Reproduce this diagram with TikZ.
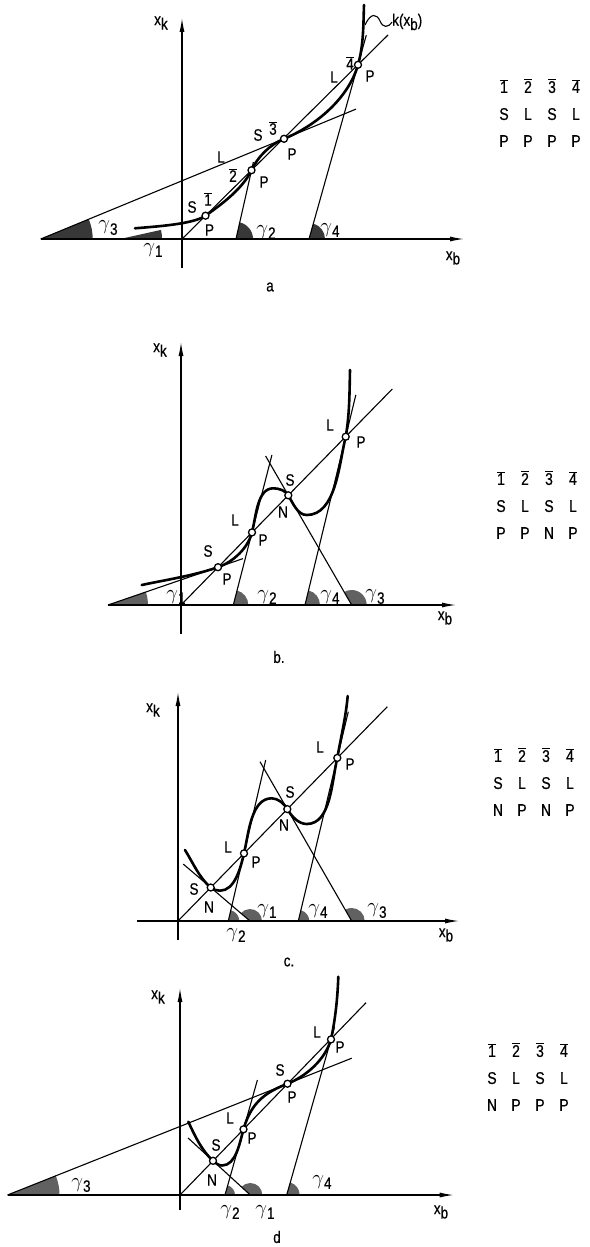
\documentclass[tikz,border=0pt]{standalone}
\usepackage{fontspec}
\setmainfont{Liberation Sans}[FakeStretch=0.82,FakeBold=0.5]
\usetikzlibrary{arrows.meta}
\newcommand\ovl[1]{\ensuremath{\overline{\mbox{#1}}}}
\newcommand\xsub[1]{x\raisebox{-0.5ex}{#1}}
\newcommand\gam[1]{{\fontsize{21}{21}\selectfont$\gamma$}\raisebox{-0.55ex}{#1}}
\newcommand\tabrow[4]{\makebox[24pt]{#1}\makebox[24pt]{#2}\makebox[24pt]{#3}\makebox[24pt]{#4}}

\begin{document}
\begin{tikzpicture}[x=1pt,y=1pt,font=\fontsize{16.5}{19}\selectfont]
    \tikzstyle{ln}=[line width=1.1pt]
    \tikzstyle{crv}=[line width=2.6pt,line cap=round]
    \tikzstyle{ax}=[line width=1.2pt,-{Latex[length=14pt,width=5pt]}]
    \tikzstyle{pt}=[circle,draw,fill=white,line width=1.3pt,inner sep=0pt,minimum size=7pt]
    \tikzstyle{wg}=[fill=black!78]
    \tikzstyle{wgb}=[fill=black!62]
    \tikzstyle{lab}=[inner sep=0pt]
    \tikzstyle{tbl}=[inner sep=0pt,align=center,font=\fontsize{17}{27}\selectfont]
    \useasboundingbox (0,0) rectangle (589,-1247);

    % a
    \coordinate (aO)  at (182,-239);
    \coordinate (aX)  at (464,-239);
    \coordinate (aYb) at (182,-268);
    \coordinate (aYt) at (182,-18);
    \coordinate (aE)  at (388,-35);
    \coordinate (aA1) at (120,-239);
    \coordinate (aA2) at (236,-239);
    \coordinate (aA3) at (40.7,-239);
    \coordinate (aA4) at (309,-239);
    \coordinate (aT2) at (253.4,-162);
    \coordinate (aT3) at (356,-109.1);
    \coordinate (aT4) at (366.3,-35.2);
    \coordinate (aP1) at (205.5,-215.7);
    \coordinate (aP2) at (251.5,-170.2);
    \coordinate (aP3) at (284,-138.8);
    \coordinate (aP4) at (358,-64.8);
    \coordinate (aK0) at (135,-228.3);
    \coordinate (aK5) at (364,-5);
    \coordinate (aK1) at (365,-25);
    \fill[wg] (aA3) -- +(0:52) arc[start angle=0,end angle=22.4,radius=52] -- cycle;
    \fill[wg] (aA1) -- +(0:42) arc[start angle=0,end angle=12.5,radius=42] -- cycle;
    \fill[wg] (aA2) -- +(0:17) arc[start angle=0,end angle=77.3,radius=17] -- cycle;
    \fill[wg] (aA4) -- +(0:16) arc[start angle=0,end angle=74.3,radius=16] -- cycle;
    \draw[ax] (aA3) -- (aX);
    \draw[ax] (aYb) -- (aYt);
    \draw[ln] (aO) -- (aE);
    \draw[ln] (aA3) -- (aT3);
    \draw[ln] (aA2) -- (aT2);
    \draw[ln] (aA4) -- (aT4);
    \draw[crv] (aK0) .. controls (154.9,-226.6) and (193.2,-224.3) .. (aP1)
        .. controls (221.9,-204.2) and (243,-188.3) .. (aP2)
        .. controls (257.8,-156.6) and (270.1,-144.5) .. (aP3)
        .. controls (316.1,-125.6) and (348.6,-98.2) .. (aP4)
        .. controls (363.6,-45.3) and (363.3,-25.3) .. (aK5);
    \node[pt] (aC1) at (aP1) {};
    \node[pt] (aC2) at (aP2) {};
    \node[pt] (aC3) at (aP3) {};
    \node[pt] (aC4) at (aP4) {};
    \node[lab,anchor=west] (akx) at (392,-22) {k(\xsub{b})};
    \draw[ln] (aK1) .. controls (371,-12) and (377,-14) .. (380,-21) .. controls (383,-28) and (388,-28) .. (akx.west);
    \node[lab] (axk)  at (161,-23)  {\xsub{k}};
    \node[lab] (axb)  at (453,-258) {\xsub{b}};
    \node[lab] (acap) at (270,-287) {a};
    \node[lab] (ag3)  at (108,-228) {\gam{3}};
    \node[lab] (ag1)  at (153,-250) {\gam{1}};
    \node[lab] (ag2)  at (266,-232) {\gam{2}};
    \node[lab] (ag4)  at (330,-230) {\gam{4}};
    \node[lab] (aS1)  at (192,-207) {S};
    \node[lab] (aB1)  at (208,-199) {\ovl{1}};
    \node[lab] (aQ1)  at (209.5,-230) {P};
    \node[lab] (aL2)  at (221,-157) {L};
    \node[lab] (aB2)  at (233,-175) {\ovl{2}};
    \node[lab] (aQ2)  at (264,-182) {P};
    \node[lab] (aS3)  at (258,-135) {S};
    \node[lab] (aB3)  at (273,-128) {\ovl{3}};
    \node[lab] (aQ3)  at (292,-154) {P};
    \node[lab] (aL4)  at (334,-77)  {L};
    \node[lab] (aB4)  at (350,-63)  {\ovl{4}};
    \node[lab] (aQ4)  at (370,-76)  {P};
    \node[tbl] (atab) at (540,-113) {\tabrow{\ovl{1}}{\ovl{2}}{\ovl{3}}{\ovl{4}}\\\tabrow{S}{L}{S}{L}\\\tabrow{P}{P}{P}{P}};

    % b
    \coordinate (bO)  at (181,-605);
    \coordinate (bX)  at (456,-605);
    \coordinate (bYb) at (181,-634);
    \coordinate (bYt) at (181,-342);
    \coordinate (bE)  at (392.3,-389);
    \coordinate (bA1) at (108,-605);
    \coordinate (bA2) at (233.3,-605);
    \coordinate (bA3) at (351.7,-605);
    \coordinate (bA4) at (305,-605);
    \coordinate (bT1) at (243,-558.6);
    \coordinate (bT2) at (271.9,-455);
    \coordinate (bT3) at (265.6,-456);
    \coordinate (bT4) at (355.8,-395);
    \coordinate (bP1) at (218,-567.2);
    \coordinate (bP2) at (252,-532.4);
    \coordinate (bP3) at (288.3,-495.3);
    \coordinate (bP4) at (345.7,-436.7);
    \coordinate (bK0) at (141.7,-585);
    \coordinate (bM1) at (273.3,-488.3);
    \coordinate (bM2) at (306.7,-515);
    \coordinate (bK5) at (350,-370);
    \fill[wgb] (bA1) -- +(0:40) arc[start angle=0,end angle=19,radius=40] -- cycle;
    \fill[wgb] (bA2) -- +(0:15) arc[start angle=0,end angle=75.6,radius=15] -- cycle;
    \fill[wgb] (bA4) -- +(0:15) arc[start angle=0,end angle=76.4,radius=15] -- cycle;
    \fill[wgb] (bA3) -- +(0:15) arc[start angle=0,end angle=120,radius=15] -- cycle;
    \draw[ax] (bA1) -- (bX);
    \draw[ax] (bYb) -- (bYt);
    \draw[ln] (bO) -- (bE);
    \draw[ln] (bA1) -- (bT1);
    \draw[ln] (bA2) -- (bT2);
    \draw[ln] (bA3) -- (bT3);
    \draw[ln] (bA4) -- (bT4);
    \draw[crv] (bK0) .. controls (167.2,-579.6) and (193.3,-575.7) .. (bP1)
        .. controls (233.3,-561.9) and (248,-548.1) .. (bP2)
        .. controls (256.1,-516.6) and (257,-488.3) .. (bM1)
        .. controls (278.8,-488.3) and (285.6,-490.5) .. (bP3)
        .. controls (292.8,-503.1) and (297.7,-515) .. (bM2)
        .. controls (335.9,-515) and (338.8,-465.1) .. (bP4)
        .. controls (349.6,-414.7) and (349.5,-392.3) .. (bK5);
    \node[pt] (bC1) at (bP1) {};
    \node[pt] (bC2) at (bP2) {};
    \node[pt] (bC3) at (bP3) {};
    \node[pt] (bC4) at (bP4) {};
    \node[lab] (bxk)  at (160,-350) {\xsub{k}};
    \node[lab] (bxb)  at (445,-618) {\xsub{b}};
    \node[lab] (bcap) at (279,-657) {b.};
    \node[lab] (bg1)  at (176,-597) {\gam{1}};
    \node[lab] (bg2)  at (267,-597) {\gam{2}};
    \node[lab] (bg4)  at (330,-597) {\gam{4}};
    \node[lab] (bg3)  at (375,-597) {\gam{3}};
    \node[lab] (bS1)  at (208,-551) {S};
    \node[lab] (bQ1)  at (227,-579) {P};
    \node[lab] (bL2)  at (235,-520) {L};
    \node[lab] (bQ2)  at (263,-540) {P};
    \node[lab] (bS3)  at (290,-480) {S};
    \node[lab] (bN3)  at (283,-512) {N};
    \node[lab] (bL4)  at (330,-425) {L};
    \node[lab] (bQ4)  at (361,-442) {P};
    \node[tbl] (btab) at (537,-505) {\tabrow{\ovl{1}}{\ovl{2}}{\ovl{3}}{\ovl{4}}\\\tabrow{S}{L}{S}{L}\\\tabrow{P}{P}{N}{P}};

    % c
    \coordinate (cO)  at (178,-921);
    \coordinate (cW)  at (137,-921);
    \coordinate (cX)  at (459,-921);
    \coordinate (cYb) at (178,-940);
    \coordinate (cYt) at (178,-692);
    \coordinate (cE)  at (387.3,-706.7);
    \coordinate (cA1) at (250,-921);
    \coordinate (cA2) at (228.3,-921);
    \coordinate (cA3) at (351.7,-921);
    \coordinate (cA4) at (298.3,-921);
    \coordinate (cT1) at (183.3,-864.1);
    \coordinate (cT2) at (265.7,-760);
    \coordinate (cT3) at (260,-761.7);
    \coordinate (cT4) at (348.3,-711.7);
    \coordinate (cP1) at (210.7,-887.5);
    \coordinate (cP2) at (244,-853.4);
    \coordinate (cP3) at (287.3,-809.1);
    \coordinate (cP4) at (337.3,-757.9);
    \coordinate (cK0) at (185,-850);
    \coordinate (cM0) at (220,-890.7);
    \coordinate (cM1) at (271.7,-798.3);
    \coordinate (cM2) at (306.7,-824);
    \coordinate (cK5) at (347.7,-696);
    \fill[wgb] (cA2) -- +(0:11) arc[start angle=0,end angle=76.9,radius=11] -- cycle;
    \fill[wgb] (cA1) -- +(0:12) arc[start angle=0,end angle=139.5,radius=12] -- cycle;
    \fill[wgb] (cA4) -- +(0:11) arc[start angle=0,end angle=76.6,radius=11] -- cycle;
    \fill[wgb] (cA3) -- +(0:13) arc[start angle=0,end angle=119.9,radius=13] -- cycle;
    \draw[ax] (cW) -- (cX);
    \draw[ax] (cYb) -- (cYt);
    \draw[ln] (cO) -- (cE);
    \draw[ln] (cT1) -- (cA1);
    \draw[ln] (cA2) -- (cT2);
    \draw[ln] (cA3) -- (cT3);
    \draw[ln] (cA4) -- (cT4);
    \draw[crv] (cK0) .. controls (193.1,-862.9) and (199.1,-877.6) .. (cP1)
        .. controls (213.2,-889.6) and (216.7,-890.7) .. (cM0)
        .. controls (234.8,-890.7) and (240.6,-867.8) .. (cP2)
        .. controls (248.7,-833.3) and (251.1,-798.3) .. (cM1)
        .. controls (278,-798.3) and (284.2,-803.6) .. (cP3)
        .. controls (291.4,-816.2) and (298.5,-824) .. (cM2)
        .. controls (331,-824) and (331.7,-781.5) .. (cP4)
        .. controls (340.9,-737.3) and (345.9,-716.8) .. (cK5);
    \node[pt] (cC1) at (cP1) {};
    \node[pt] (cC2) at (cP2) {};
    \node[pt] (cC3) at (cP3) {};
    \node[pt] (cC4) at (cP4) {};
    \node[lab] (cxk)  at (153,-710) {\xsub{k}};
    \node[lab] (cxb)  at (446,-935) {\xsub{b}};
    \node[lab] (ccap) at (289,-962) {c.};
    \node[lab] (cg1)  at (267,-911) {\gam{1}};
    \node[lab] (cg2)  at (236,-935) {\gam{2}};
    \node[lab] (cg4)  at (318,-911) {\gam{4}};
    \node[lab] (cg3)  at (377,-911) {\gam{3}};
    \node[lab] (cS1)  at (194,-889) {S};
    \node[lab] (cN1)  at (209,-907) {N};
    \node[lab] (cL2)  at (228,-847) {L};
    \node[lab] (cQ2)  at (256,-862) {P};
    \node[lab] (cS3)  at (290,-792) {S};
    \node[lab] (cN3)  at (284,-825) {N};
    \node[lab] (cL4)  at (320,-747) {L};
    \node[lab] (cQ4)  at (350,-764) {P};
    \node[tbl] (ctab) at (534,-782) {\tabrow{\ovl{1}}{\ovl{2}}{\ovl{3}}{\ovl{4}}\\\tabrow{S}{L}{S}{L}\\\tabrow{N}{P}{N}{P}};

    % d
    \coordinate (dO)  at (180,-1195);
    \coordinate (dX)  at (453.7,-1195);
    \coordinate (dYb) at (180,-1210);
    \coordinate (dYt) at (180,-988);
    \coordinate (dE)  at (366,-1002.7);
    \coordinate (dA1) at (250.3,-1195);
    \coordinate (dA2) at (225,-1195);
    \coordinate (dA3) at (7.5,-1195);
    \coordinate (dA4) at (286.7,-1195);
    \coordinate (dT1) at (188,-1137.9);
    \coordinate (dT2) at (257.4,-1080);
    \coordinate (dT3) at (351.7,-1058.2);
    \coordinate (dT4) at (334.5,-1027);
    \coordinate (dP1) at (213,-1160.8);
    \coordinate (dP2) at (243.5,-1129.3);
    \coordinate (dP3) at (287.5,-1083.7);
    \coordinate (dP4) at (331,-1039.4);
    \coordinate (dK0) at (188.3,-1121.7);
    \coordinate (dM0) at (222,-1165.5);
    \coordinate (dK5) at (338.3,-976.7);
    \fill[wgb] (dA3) -- +(0:52) arc[start angle=0,end angle=21.7,radius=52] -- cycle;
    \fill[wgb] (dA2) -- +(0:10) arc[start angle=0,end angle=74.3,radius=10] -- cycle;
    \fill[wgb] (dA1) -- +(0:12) arc[start angle=0,end angle=137.5,radius=12] -- cycle;
    \fill[wgb] (dA4) -- +(0:13) arc[start angle=0,end angle=74.1,radius=13] -- cycle;
    \draw[ax] (dA3) -- (dX);
    \draw[ax] (dYb) -- (dYt);
    \draw[ln] (dO) -- (dE);
    \draw[ln] (dA3) -- (dT3);
    \draw[ln] (dT1) -- (dA1);
    \draw[ln] (dA2) -- (dT2);
    \draw[ln] (dA4) -- (dT4);
    \draw[crv] (dK0) .. controls (194.8,-1135.7) and (201.6,-1150.4) .. (dP1)
        .. controls (215.5,-1163.1) and (218.6,-1165.5) .. (dM0)
        .. controls (236,-1165.5) and (239.7,-1142.8) .. (dP2)
        .. controls (251.6,-1100.4) and (267.9,-1091.5) .. (dP3)
        .. controls (306.7,-1076) and (325.3,-1059.3) .. (dP4)
        .. controls (335.4,-1018.9) and (337.6,-997.7) .. (dK5);
    \node[pt] (dC1) at (dP1) {};
    \node[pt] (dC2) at (dP2) {};
    \node[pt] (dC3) at (dP3) {};
    \node[pt] (dC4) at (dP4) {};
    \node[lab] (dxk)  at (158,-997)  {\xsub{k}};
    \node[lab] (dxb)  at (441,-1212) {\xsub{b}};
    \node[lab] (dcap) at (277,-1237) {d};
    \node[lab] (dg3)  at (81,-1185)  {\gam{3}};
    \node[lab] (dg2)  at (230,-1212) {\gam{2}};
    \node[lab] (dg1)  at (265,-1212) {\gam{1}};
    \node[lab] (dg4)  at (322,-1182) {\gam{4}};
    \node[lab] (dS1)  at (216,-1145) {S};
    \node[lab] (dN1)  at (212,-1180) {N};
    \node[lab] (dL2)  at (230,-1118) {L};
    \node[lab] (dQ2)  at (252,-1138) {P};
    \node[lab] (dS3)  at (280,-1070) {S};
    \node[lab] (dQ3)  at (292,-1097) {P};
    \node[lab] (dL4)  at (317,-1032) {L};
    \node[lab] (dQ4)  at (340,-1047) {P};
    \node[tbl] (dtab) at (528,-1077) {\tabrow{\ovl{1}}{\ovl{2}}{\ovl{3}}{\ovl{4}}\\\tabrow{S}{L}{S}{L}\\\tabrow{N}{P}{P}{P}};
\end{tikzpicture}
\end{document}
